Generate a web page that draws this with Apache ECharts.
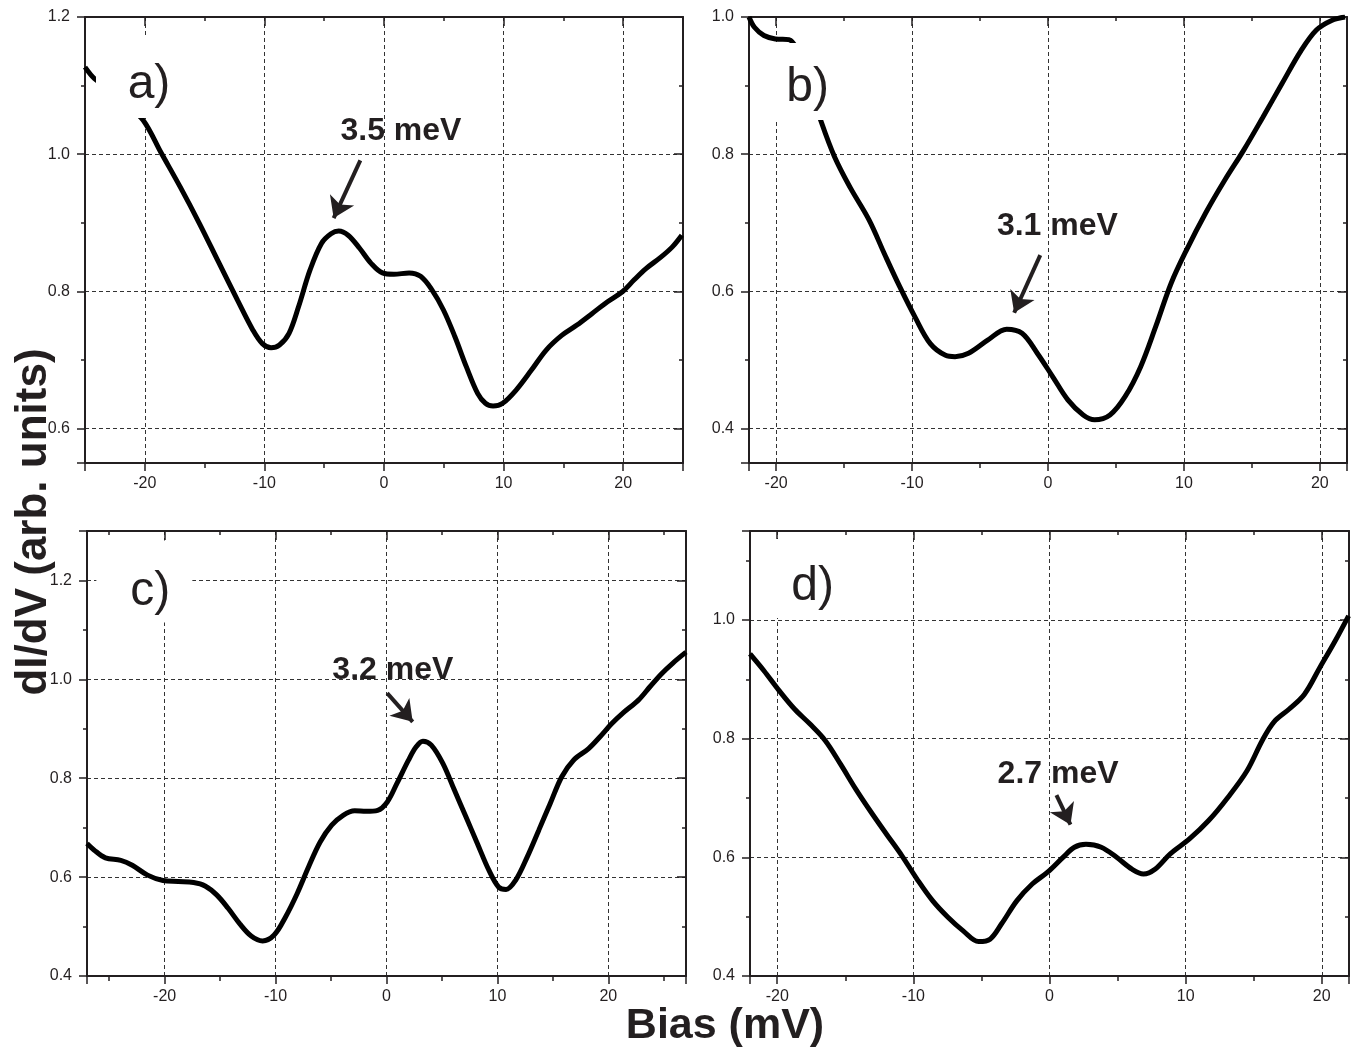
<!DOCTYPE html>
<html>
<head>
<meta charset="utf-8">
<script src="https://cdn.jsdelivr.net/npm/echarts@6/dist/echarts.min.js"></script>
<style>
html,body{margin:0;padding:0;background:#fff;}
#main{width:1353px;height:1049px;}
</style>
</head>
<body>
<div id="main"></div>
<script>
// panel a
var aBias = [-25, -24.2, -23, -21.5, -20.15, -18.6, -17.03, -15.43, -13.84, -12.24, -10.97, -10.17, -9.44, -8.74, -7.94, -7.14, -6.19, -5.23, -4.43, -3.79, -3.0, -2.04, -1.08, -0.13, 0.83, 2.1, 3.06, 4.02, 4.97, 5.93, 6.89, 7.84, 8.48, 9.12, 9.92, 11.03, 12.31, 13.58, 14.86, 16.13, 17.41, 18.69, 19.96, 20.92, 21.88, 23.15, 24.11, 24.9];
var aDidv = [1.127, 1.11, 1.095, 1.07, 1.05, 1.001, 0.952, 0.899, 0.843, 0.787, 0.744, 0.724, 0.718, 0.722, 0.739, 0.778, 0.831, 0.870, 0.884, 0.888, 0.882, 0.863, 0.841, 0.827, 0.825, 0.827, 0.822, 0.802, 0.773, 0.734, 0.690, 0.651, 0.637, 0.633, 0.637, 0.656, 0.685, 0.715, 0.736, 0.751, 0.768, 0.785, 0.800, 0.817, 0.833, 0.850, 0.865, 0.882];
// panel b
var bBias = [-22, -21.6, -20.9, -20.06, -19.07, -17.8, -16.68, -15.7, -14.57, -13.16, -12.04, -10.91, -9.79, -8.66, -7.54, -6.84, -5.85, -4.44, -3.04, -1.91, -0.79, 0.34, 1.46, 2.59, 3.43, 4.56, 5.68, 6.81, 7.93, 9.06, 10.18, 11.59, 13.0, 14.4, 15.81, 17.22, 18.62, 19.75, 20.87, 21.86];
var bDidv = [1.0, 0.985, 0.973, 0.968, 0.967, 0.915, 0.847, 0.796, 0.752, 0.704, 0.655, 0.607, 0.563, 0.524, 0.507, 0.505, 0.510, 0.529, 0.545, 0.539, 0.510, 0.476, 0.442, 0.420, 0.413, 0.420, 0.447, 0.490, 0.549, 0.612, 0.660, 0.714, 0.762, 0.806, 0.854, 0.903, 0.951, 0.981, 0.995, 1.0];
// panel c
var cBias = [-27, -26.37, -25.34, -23.95, -22.92, -21.54, -20.15, -18.77, -17.39, -16.35, -15.31, -14.28, -13.24, -12.2, -11.17, -10.13, -9.09, -8.05, -7.02, -5.98, -4.94, -3.91, -2.87, -1.83, -0.8, 0.07, 0.93, 1.97, 2.66, 3.28, 4.04, 5.08, 6.12, 7.16, 8.19, 9.23, 10.1, 10.78, 11.65, 12.69, 13.73, 14.76, 15.8, 16.84, 18.22, 19.25, 20.29, 21.33, 22.71, 23.75, 24.78, 25.82, 27.0];
var cDidv = [0.668, 0.655, 0.639, 0.634, 0.624, 0.604, 0.593, 0.591, 0.589, 0.582, 0.564, 0.537, 0.506, 0.481, 0.471, 0.483, 0.520, 0.567, 0.621, 0.671, 0.705, 0.725, 0.734, 0.733, 0.735, 0.752, 0.789, 0.836, 0.863, 0.875, 0.867, 0.830, 0.776, 0.722, 0.668, 0.614, 0.580, 0.575, 0.594, 0.641, 0.695, 0.749, 0.803, 0.836, 0.860, 0.884, 0.910, 0.932, 0.958, 0.985, 1.011, 1.033, 1.055];
// panel d
var dBias = [-22, -20.99, -19.86, -18.73, -17.61, -16.48, -15.35, -14.23, -13.1, -11.97, -10.85, -9.72, -8.59, -7.46, -6.34, -5.21, -4.37, -3.52, -2.39, -1.27, -0.14, 0.99, 1.83, 2.68, 3.8, 4.93, 6.06, 6.9, 7.75, 8.87, 10.28, 11.69, 13.1, 14.51, 15.63, 16.48, 17.61, 18.73, 19.86, 20.99, 21.97];
var dDidv = [0.943, 0.915, 0.881, 0.850, 0.825, 0.797, 0.757, 0.715, 0.676, 0.639, 0.603, 0.563, 0.527, 0.499, 0.476, 0.458, 0.462, 0.488, 0.527, 0.555, 0.575, 0.600, 0.617, 0.622, 0.617, 0.600, 0.580, 0.572, 0.580, 0.606, 0.631, 0.662, 0.701, 0.746, 0.797, 0.828, 0.850, 0.875, 0.920, 0.965, 1.007];

var xTickLabels = [-20, -10, 0, 10, 20];
var yTickLabels = [0.4, 0.6, 0.8, 1.0, 1.2];

var tags = ['a)', 'b)', 'c)', 'd)'];
var notes = ['3.5 meV', '3.1 meV', '3.2 meV', '2.7 meV'];
var tagAt = [[-19.65, 1.112], [-17.69, 0.906], [-21.83, 1.198], [-17.4, 1.07]];
var noteAt = [[1.42, 1.034], [0.69, 0.695], [0.57, 1.018], [0.63, 0.740]];
var arrowFrom = [[-1.98, 0.991], [-0.57, 0.653], [0.06, 0.972], [0.51, 0.705]];
var arrowTo = [[-4.21, 0.907], [-2.49, 0.569], [2.36, 0.914], [1.54, 0.655]];

var xRange = [[-25, 25], [-22, 22], [-27, 27], [-22, 22]];
var yRange = [[0.55, 1.2], [0.35, 1.0], [0.4, 1.3], [0.4, 1.15]];
var ySplit = [3, 3, 4, 4];

var grids = [
  {left: 85, top: 17, width: 598, height: 446},
  {left: 749, top: 17, width: 598, height: 446},
  {left: 87, top: 531, width: 599, height: 445},
  {left: 750, top: 531, width: 599, height: 445}
];
var tagBox = [[106, 81], [92, 77], [96, 82], [96, 79]];
var tagShift = [[0, 7], [0, 6], [6, 10], [0, 8]];

var ink = '#231f20';
var font = '"Liberation Sans", Arial, Helvetica, sans-serif';
var tickStyle = {color: ink, width: 1.5};

function xLabel(v) {
  return xTickLabels.indexOf(Math.round(v * 100) / 100) >= 0 ? String(Math.round(v)) : '';
}
function yLabel(v) {
  var r = Math.round(v * 100) / 100;
  return yTickLabels.indexOf(r) >= 0 ? r.toFixed(1) : '';
}

var xAxes = [], yAxes = [], series = [];
var sets = [[aBias, aDidv], [bBias, bDidv], [cBias, cDidv], [dBias, dDidv]];

for (var i = 0; i < 4; i++) {
  grids[i].outerBoundsMode = 'none';
  grids[i].containLabel = false;
  xAxes.push({
    gridIndex: i, type: 'value', position: 'bottom',
    min: xRange[i][0], max: xRange[i][1], splitNumber: 5,
    axisLine: {onZero: false, lineStyle: {color: ink, width: 2}},
    axisTick: {length: 8, lineStyle: tickStyle},
    minorTick: {show: true, splitNumber: 2, length: 5, lineStyle: tickStyle},
    axisLabel: {margin: 13, fontSize: 16, color: ink, fontFamily: font, formatter: xLabel},
    splitLine: {show: true, lineStyle: {color: '#333', width: 1, type: [4, 3]}}
  });
  xAxes.push({
    gridIndex: i, type: 'value', position: 'top',
    min: xRange[i][0], max: xRange[i][1], splitNumber: 5,
    axisLine: {onZero: false, lineStyle: {color: ink, width: 2}},
    axisTick: {inside: true, length: 9, lineStyle: tickStyle},
    minorTick: {show: true, splitNumber: 2, length: 4, lineStyle: tickStyle},
    axisLabel: {show: false},
    splitLine: {show: false}
  });
  yAxes.push({
    gridIndex: i, type: 'value', position: 'left',
    min: yRange[i][0], max: yRange[i][1], splitNumber: ySplit[i],
    axisLine: {onZero: false, lineStyle: {color: ink, width: 2}},
    axisTick: {length: 8, lineStyle: tickStyle},
    minorTick: {show: true, splitNumber: 2, length: 4, lineStyle: tickStyle},
    axisLabel: {margin: 15, fontSize: 16, color: ink, fontFamily: font, formatter: yLabel},
    splitLine: {show: true, lineStyle: {color: '#333', width: 1, type: [4, 3]}}
  });
  yAxes.push({
    gridIndex: i, type: 'value', position: 'right',
    min: yRange[i][0], max: yRange[i][1], splitNumber: ySplit[i],
    axisLine: {onZero: false, lineStyle: {color: ink, width: 2}},
    axisTick: {inside: true, length: 9, lineStyle: tickStyle},
    minorTick: {show: true, splitNumber: 2, length: 4, lineStyle: tickStyle},
    axisLabel: {show: false},
    splitLine: {show: false}
  });

  var pts = sets[i][0].map(function (x, k) { return [x, sets[i][1][k]]; });
  series.push({
    type: 'line',
    xAxisIndex: 2 * i,
    yAxisIndex: 2 * i,
    data: pts,
    showSymbol: false,
    smooth: 0.35,
    lineStyle: {color: '#000', width: 5},
    z: 3,
    markLine: {
      silent: true,
      animation: false,
      symbol: ['none', 'arrow'],
      symbolSize: 20,
      lineStyle: {color: ink, width: 4, type: 'solid'},
      itemStyle: {color: ink},
      label: {show: false},
      data: [[{coord: arrowFrom[i]}, {coord: arrowTo[i]}]]
    },
    markPoint: {
      silent: true,
      animation: false,
      data: [
        {
          coord: tagAt[i], symbol: 'rect', symbolSize: tagBox[i],
          itemStyle: {color: '#fff'},
          label: {show: true, position: 'inside', formatter: tags[i], offset: tagShift[i],
                  fontSize: 48, color: ink, fontFamily: font}
        },
        {
          coord: noteAt[i], symbol: 'circle', symbolSize: 1,
          itemStyle: {color: 'rgba(0,0,0,0)'},
          label: {show: true, position: 'inside', formatter: notes[i],
                  fontSize: 32, fontWeight: 'bold', color: ink, fontFamily: font}
        }
      ]
    }
  });
}

var myChart = echarts.init(document.getElementById('main'));
myChart.setOption({
  animation: false,
  backgroundColor: '#fff',
  grid: grids,
  xAxis: xAxes,
  yAxis: yAxes,
  series: series,
  graphic: [
    {
      type: 'text', x: 34, y: 522, rotation: Math.PI / 2,
      style: {text: 'dI/dV (arb. units)', font: 'bold 44px ' + font, fill: ink,
              textAlign: 'center', textVerticalAlign: 'middle'}
    },
    {
      type: 'text', x: 725, y: 1026,
      style: {text: 'Bias (mV)', font: 'bold 43px ' + font, fill: ink,
              textAlign: 'center', textVerticalAlign: 'middle'}
    }
  ]
});
</script>
</body>
</html>
